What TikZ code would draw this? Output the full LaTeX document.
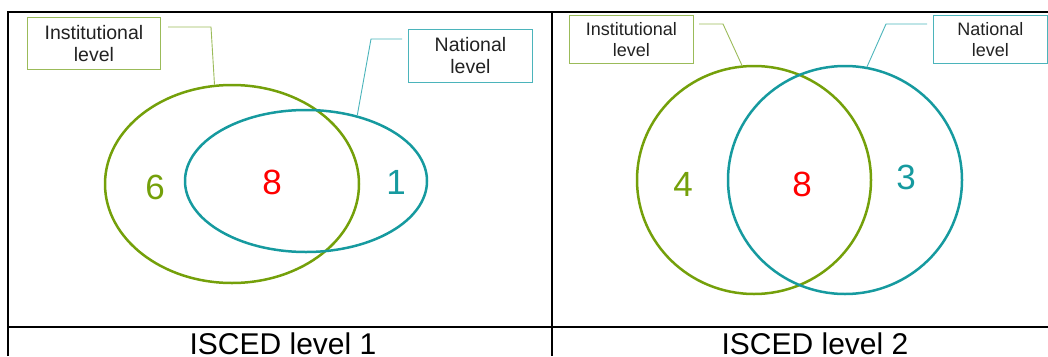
\documentclass[tikz,border=0pt]{standalone}
\usepackage{fontspec}
\setmainfont{Liberation Sans}
\usepackage{xcolor}
\usetikzlibrary{shapes.geometric}

\definecolor{instgreen}{HTML}{74A00A}
\definecolor{natteal}{HTML}{169A9F}
\definecolor{instlight}{HTML}{9BBB59}
\definecolor{natlight}{HTML}{4BB4BB}
\definecolor{tagtext}{HTML}{222222}

\tikzset{
  venn/.style={ellipse, draw, line width=2.5pt, inner sep=0pt},
  tag/.style={draw, line width=0.9pt, align=center, inner sep=0pt, anchor=north west,
              text=tagtext, font=\fontsize{19.5}{22}\selectfont},
  leader/.style={line width=0.9pt},
  count/.style={font=\fontsize{35}{35}\selectfont},
  caption/.style={anchor=base, inner sep=0pt, font=\fontsize{30}{30}\selectfont},
}

\begin{document}
\begin{tikzpicture}[x=1pt, y=-1pt]
        \useasboundingbox (0,0) rectangle (1048,356);

        % table rules
        \draw[line width=2pt] (8,356) -- (8,12) -- (1048,12);
        \draw[line width=2pt] (552,12) -- (552,356);
        \draw[line width=2pt] (8,327) -- (1048,327);

        % ISCED level 1
        \node[venn, instgreen, minimum width=254pt, minimum height=198pt] (instAell) at (232,184) {};
        \node[venn, natteal, minimum width=242pt, minimum height=142pt] (natAell) at (306,181) {};
        \node[count, instgreen] (instAcount) at (155,187) {6};
        \node[count, red] (bothAcount) at (272,182) {8};
        \node[count, natteal] (natAcount) at (396,182) {1};

        \node[tag, draw=instlight, minimum width=133pt, minimum height=52pt] (instA) at (27,17) {Institutional\\level};
        \node[tag, draw=natlight, minimum width=124pt, minimum height=53pt] (natA) at (408,29) {National\\level};
        \coordinate (instAfoot) at (168,27);
        \coordinate (instAbend) at (211,27);
        \coordinate (natAfoot) at (402,39);
        \coordinate (natAbend) at (371,39);
        \draw[leader, instlight] (instAfoot) -- (instAbend) -- (instAell.100);
        \draw[leader, natlight] (natAfoot) -- (natAbend) -- (natAell.52);

        \node[caption] (capA) at (283,354) {ISCED level 1};

        % ISCED level 2
        \node[venn, instgreen, minimum width=234pt, minimum height=228pt] (instBell) at (754,180) {};
        \node[venn, natteal, minimum width=234pt, minimum height=228pt] (natBell) at (845,180) {};
        \node[count, instgreen] (instBcount) at (683,184) {4};
        \node[count, red] (bothBcount) at (802,184) {8};
        \node[count, natteal] (natBcount) at (906,177) {3};

        \node[tag, draw=instlight, minimum width=124pt, minimum height=48pt, font=\fontsize{18}{21}\selectfont] (instB) at (569,15) {Institutional\\level};
        \node[tag, draw=natlight, minimum width=114pt, minimum height=48pt, font=\fontsize{18}{21}\selectfont] (natB) at (933,15) {National\\level};
        \coordinate (instBfoot) at (699,24);
        \coordinate (instBbend) at (723,24);
        \coordinate (natBfoot) at (927,24);
        \coordinate (natBbend) at (886,24);
        \draw[leader, instlight] (instBfoot) -- (instBbend) -- (instBell.96);
        \draw[leader, natlight] (natBfoot) -- (natBbend) -- (natBell.79);

        \node[caption] (capB) at (815,354) {ISCED level 2};
\end{tikzpicture}
\end{document}
